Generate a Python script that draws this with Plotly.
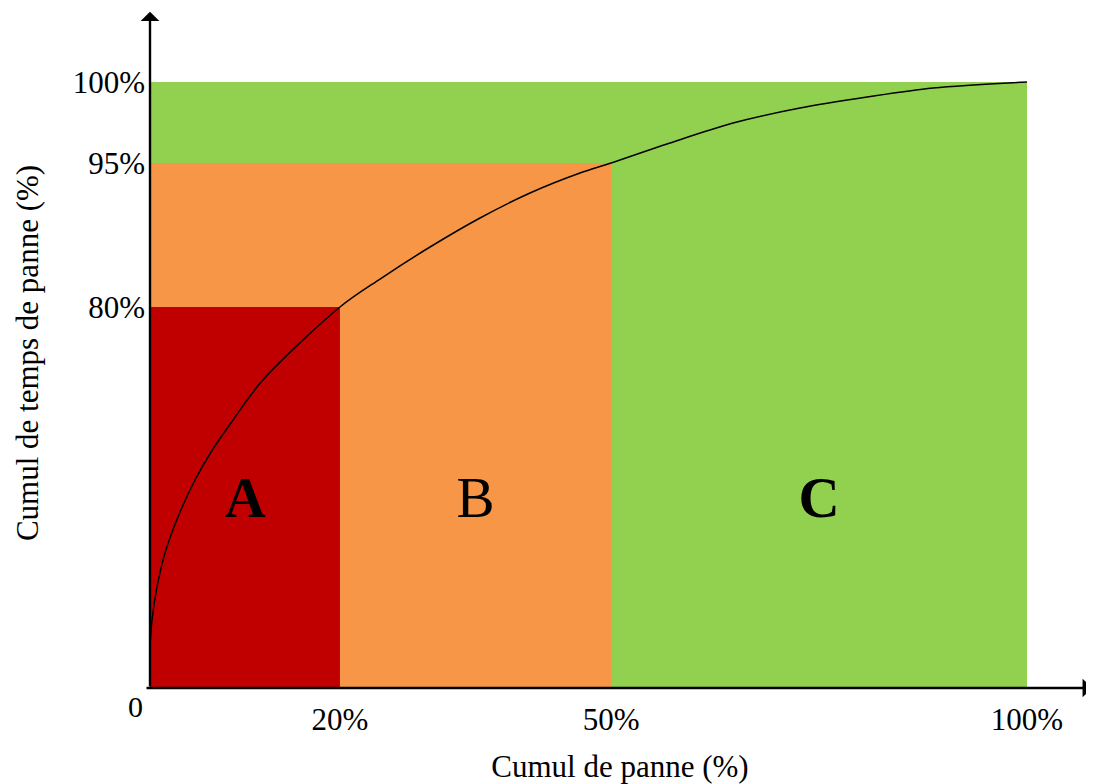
import plotly.graph_objects as go

# Schematic ABC (Pareto) chart. Axis positions are schematic: tick positions
# are where the labelled percentages sit on the drawn axes.
x_tick_pos = [21.66, 52.57, 100]
x_tick_text = ["20%", "50%", "100%"]
y_tick_pos = [62.87, 86.63, 100]
y_tick_text = ["80%", "95%", "100%"]

zone_labels = ["A", "B", "C"]
zone_x_end = [21.66, 52.57, 100]
zone_y_top = [62.87, 86.63, 100]
zone_colors = ["#C00000", "#F79646", "#92D050"]
zone_label_bold = [True, False, True]
zone_label_y = 30.6

curve_x = [0, 0.23, 0.80, 1.71, 3.19, 5.13, 6.96, 9.46, 12.77, 21.66, 26.23,
           31.93, 37.63, 43.33, 49.03, 52.57, 58.95, 66.48, 74.12, 81.76, 89.28, 100]
curve_y = [6.77, 11.22, 16.67, 22.28, 28.22, 34.32, 38.94, 44.22, 50.66, 62.87,
           67.49, 72.77, 77.56, 81.68, 84.98, 86.63, 89.77, 93.23, 95.71, 97.52, 99.01, 100]

FONT = "Liberation Serif"
OFF = 8                    # page body margin added by the browser
W, H = 1094 - OFF, 784 - OFF
PLOT_LEFT, PLOT_BOTTOM = 146, 698   # page pixels
ORIGIN_X, ORIGIN_Y = 150, 688       # page pixels
PX_X = 8.77   # pixels per x unit
PX_Y = 6.06   # pixels per y unit
ML = PLOT_LEFT - OFF
MB = H - (PLOT_BOTTOM - OFF)

x_min = -(ORIGIN_X - PLOT_LEFT) / PX_X
x_max = x_min + (1094 - PLOT_LEFT) / PX_X
y_min = -(PLOT_BOTTOM - ORIGIN_Y) / PX_Y
y_max = (ORIGIN_Y - OFF) / PX_Y

fig = go.Figure()

# zones drawn from largest to smallest so A sits on top
for lab, xe, yt, col in reversed(list(zip(zone_labels, zone_x_end, zone_y_top, zone_colors))):
    fig.add_trace(go.Bar(x=[xe / 2], y=[yt], width=[xe], base=0,
                         marker=dict(color=col, line=dict(width=0)),
                         hoverinfo="skip", showlegend=False))

fig.add_trace(go.Scatter(x=curve_x, y=curve_y, mode="lines",
                         line=dict(color="black", width=1.5, shape="spline", smoothing=0.9),
                         hoverinfo="skip", showlegend=False))

starts = [0] + zone_x_end[:-1]
centers = [(s + e) / 2 for s, e in zip(starts, zone_x_end)]
texts = [f"<b>{l}</b>" if b else l for l, b in zip(zone_labels, zone_label_bold)]
fig.add_trace(go.Scatter(x=centers, y=[zone_label_y] * 3, mode="text", text=texts,
                         textposition="middle center",
                         textfont=dict(family=FONT, size=57, color="black"),
                         hoverinfo="skip", showlegend=False))

# axis arrows
fig.add_annotation(x=107.4, y=0, ax=-0.57, ay=0, xref="x", yref="y", axref="x", ayref="y",
                   text="", showarrow=True, arrowhead=1, arrowsize=1.3, arrowwidth=2.4,
                   arrowcolor="black")
fig.add_annotation(x=0, y=111.6, ax=0, ay=0, xref="x", yref="y", axref="x", ayref="y",
                   text="", showarrow=True, arrowhead=1, arrowsize=1.3, arrowwidth=2.4,
                   arrowcolor="black")
# origin label
fig.add_annotation(x=0, y=0, xref="x", yref="y", text="0", showarrow=False,
                   xanchor="right", yanchor="top", xshift=-5, yshift=0,
                   font=dict(family=FONT, size=30, color="black"))

fig.update_layout(
    width=W, height=H,
    margin=dict(l=ML, r=0, t=0, b=MB, autoexpand=False),
    paper_bgcolor="white", plot_bgcolor="white",
    barmode="overlay",
    font=dict(family=FONT, size=31, color="black"),
    xaxis=dict(range=[x_min, x_max], tickmode="array", tickvals=x_tick_pos,
               ticktext=x_tick_text, showgrid=False, zeroline=False, showline=False,
               ticks="", tickfont=dict(family=FONT, size=31),
               title=dict(text="Cumul de panne (%)", standoff=20,
                          font=dict(family=FONT, size=31))),
    yaxis=dict(range=[y_min, y_max], tickmode="array", tickvals=y_tick_pos,
               ticktext=y_tick_text, showgrid=False, zeroline=False, showline=False,
               ticks="", tickfont=dict(family=FONT, size=31),
               title=dict(text="Cumul de temps de panne (%)", standoff=24,
                          font=dict(family=FONT, size=31))),
)

fig.write_html("out.html")
